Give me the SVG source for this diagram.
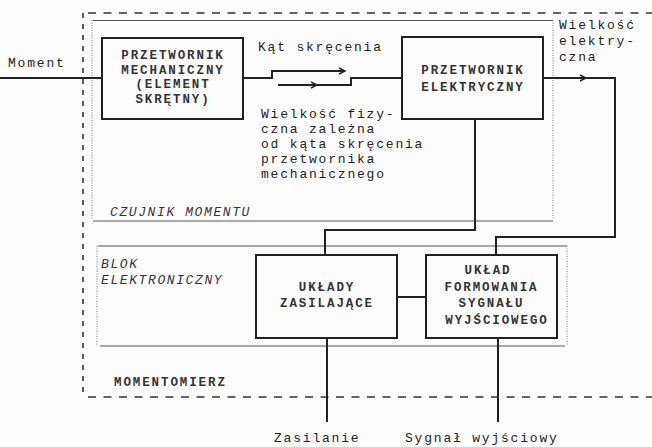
<svg xmlns="http://www.w3.org/2000/svg" width="652" height="447" viewBox="0 0 652 447">
<style>
.bg{fill:#fdfdfd}
.box{fill:#fdfdfd;stroke:#222;stroke-width:2}
.lbl{font-family:"Liberation Mono","DejaVu Sans Mono",monospace;font-size:12.5px;font-weight:bold;fill:#333;letter-spacing:1.9px}
.txt{font-family:"Liberation Mono","DejaVu Sans Mono",monospace;font-size:13px;fill:#222;letter-spacing:1.8px}
.it{font-family:"Liberation Mono","DejaVu Sans Mono",monospace;font-size:13px;font-style:italic;fill:#333;letter-spacing:1.6px}
.wire{fill:none;stroke:#222;stroke-width:2}
.outer{fill:none;stroke:#333;stroke-width:1.6;stroke-dasharray:8 7.5}
.outerv{fill:none;stroke:#333;stroke-width:1.6;stroke-dasharray:5 6}
.inner{fill:none;stroke:#555;stroke-width:1}
.dot{fill:none;stroke:#777;stroke-width:1;stroke-dasharray:1 1.5}
</style>
<defs>
<marker id="chev" markerWidth="10" markerHeight="10" refX="7" refY="4" orient="auto" markerUnits="userSpaceOnUse">
<path d="M1,1 L7,4 L1,7" fill="none" stroke="#222" stroke-width="1.4"/>
</marker>
</defs>
<rect class="bg" x="0" y="0" width="652" height="447"/>

<g id="momentomierz">
<path class="outer" d="M88,13 H652"/>
<path class="outerv" d="M83,13 V398"/>
<path class="outer" d="M88,397 H652"/>
<text class="lbl" x="114" y="386">MOMENTOMIERZ</text>
</g>

<g id="czujnik-momentu">
<path class="inner" d="M93,20.5 H553"/>
<path class="dot" d="M92,20 V220"/>
<path class="dot" d="M553,20 V220"/>
<path class="inner" d="M93,221 H553"/>
<text class="it" x="110" y="216">CZUJNIK MOMENTU</text>
</g>

<g id="blok-elektroniczny">
<path class="inner" d="M98,246 H567"/>
<path class="dot" d="M97,246 V346"/>
<path class="dot" d="M567,246 V346"/>
<path class="inner" d="M100,346 H565"/>
<text class="it" x="101" y="268">BLOK</text>
<text class="it" x="101" y="284">ELEKTRONICZNY</text>
</g>

<g id="connectors">
<path class="wire" d="M0,78 H102"/>
<path class="wire" d="M242,78 H272 V71 H345" marker-end="url(#chev)"/>
<path class="wire" d="M278,85 H317" marker-end="url(#chev)"/>
<path class="wire" d="M317,85 H351 V78 H402"/>
<path class="wire" d="M543,78 H586" marker-end="url(#chev)"/>
<path class="wire" d="M586,78 H615 V237 H496 V255"/>
<path class="wire" d="M475,119 V230 H325 V255"/>
<path class="wire" d="M397,297 H426"/>
<path class="wire" d="M327,338 V422"/>
<path class="wire" d="M498,338 V422"/>
</g>

<g id="przetwornik-mechaniczny">
<rect class="box" x="102" y="38" width="141" height="81"/>
<text class="lbl" x="173" y="59" text-anchor="middle">PRZETWORNIK</text>
<text class="lbl" x="173" y="73.5" text-anchor="middle">MECHANICZNY</text>
<text class="lbl" x="173" y="88" text-anchor="middle">(ELEMENT</text>
<text class="lbl" x="173" y="102.5" text-anchor="middle">SKRĘTNY)</text>
</g>

<g id="przetwornik-elektryczny">
<rect class="box" x="402" y="37" width="141" height="82"/>
<text class="lbl" x="473" y="74" text-anchor="middle">PRZETWORNIK</text>
<text class="lbl" x="473" y="91" text-anchor="middle">ELEKTRYCZNY</text>
</g>

<g id="uklady-zasilajace">
<rect class="box" x="256" y="255" width="141" height="83"/>
<text class="lbl" x="327" y="291" text-anchor="middle">UKŁADY</text>
<text class="lbl" x="327" y="307" text-anchor="middle">ZASILAJĄCE</text>
</g>

<g id="uklad-formowania">
<rect class="box" x="426" y="255" width="131" height="83"/>
<text class="lbl" x="488" y="274" text-anchor="middle">UKŁAD</text>
<text class="lbl" x="491.5" y="291" text-anchor="middle">FORMOWANIA</text>
<text class="lbl" x="491.5" y="307" text-anchor="middle">SYGNAŁU</text>
<text class="lbl" x="497" y="324" text-anchor="middle">WYJŚCIOWEGO</text>
</g>

<g id="labels">
<text class="txt" x="8" y="67">Moment</text>
<text class="txt" x="258" y="51">Kąt skręcenia</text>
<text class="txt" x="261" y="118">Wielkość fizy-</text>
<text class="txt" x="261" y="133">czna zależna</text>
<text class="txt" x="261" y="148">od kąta skręcenia</text>
<text class="txt" x="261" y="163">przetwornika</text>
<text class="txt" x="261" y="178">mechanicznego</text>
<text class="txt" x="559" y="29">Wielkość</text>
<text class="txt" x="559" y="45">elektry-</text>
<text class="txt" x="559" y="61">czna</text>
<text class="txt" x="274" y="442">Zasilanie</text>
<text class="txt" x="405" y="442">Sygnał wyjściowy</text>
</g>
</svg>
